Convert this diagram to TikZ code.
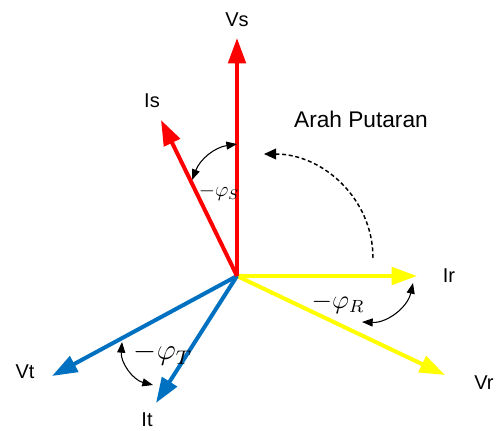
\documentclass[tikz,border=0pt]{standalone}
\usepackage{fontspec}
\setmainfont{Liberation Sans}
\usetikzlibrary{arrows.meta}
\definecolor{phaseR}{RGB}{255,255,0}
\definecolor{phaseS}{RGB}{255,0,0}
\definecolor{phaseT}{RGB}{0,112,192}

\begin{document}
\begin{tikzpicture}[x=0.75pt, y=0.75pt,
  phasor/.style={line width=3pt, -{Triangle[length=19pt, width=13pt]}},
  lbl/.style={font=\fontsize{15}{17}\selectfont, inner sep=0pt},
  anglbl/.style={inner sep=0pt, font=\fontsize{12}{14}\selectfont},
  angarc/.style={line width=0.8pt, {Triangle[length=8pt, width=6pt]}-{Triangle[length=8pt, width=6pt]}},
  rotarc/.style={line width=1.1pt, densely dashed, -{Triangle[length=9pt, width=8pt]}}
]
\useasboundingbox (0,0) rectangle (496,430);

\coordinate (O) at (237,154);
\coordinate (vs) at (237,392);
\coordinate (is) at (161,310);
\coordinate (ir) at (417,154);
\coordinate (vr) at (445,55);
\coordinate (vt) at (52,54);
\coordinate (it) at (156,27);

\node[lbl] (vsl) at (237,410) {Vs};
\node[lbl] (isl) at (152,329) {Is};
\node[lbl] (irl) at (449,154) {Ir};
\node[lbl] (vrl) at (484,47) {Vr};
\node[lbl] (vtl) at (25,58) {Vt};
\node[lbl] (itl) at (147,10) {It};
\node[font=\fontsize{17}{19}\selectfont] (arah) at (361,311) {Arah Putaran};

\draw[phasor, phaseR] (O) -- (ir);
\draw[phasor, phaseR] (O) -- (vr);
\draw[phasor, phaseT] (O) -- (vt);
\draw[phasor, phaseT] (O) -- (it);
\draw[phasor, phaseS] (O) -- (is);
\draw[phasor, phaseS] (O) -- (vs);

% sudut fasa
\coordinate (s1) at (192,250);
\coordinate (s2) at (237,286);
\coordinate (r1) at (362,108);
\coordinate (r2) at (413,147);
\coordinate (t1) at (122,88);
\coordinate (t2) at (153,45);
\draw[angarc] (s1) to[bend left=30] (s2);
\draw[angarc] (r1) to[bend right=40] (r2);
\draw[angarc] (t1) to[bend right=40] (t2);
\node[anglbl, scale=1.3] (phis) at (219,238) {$-\varphi_S$};
\node[anglbl, scale=1.65] (phir) at (338,127) {$-\varphi_R$};
\node[anglbl, scale=1.85] (phit) at (163,76) {$-\varphi_T$};

% arah putaran
\coordinate (p1) at (373,172);
\coordinate (p2) at (264,276);
\draw[rotarc] (p1) to[out=90, in=0] (p2);
\end{tikzpicture}
\end{document}
